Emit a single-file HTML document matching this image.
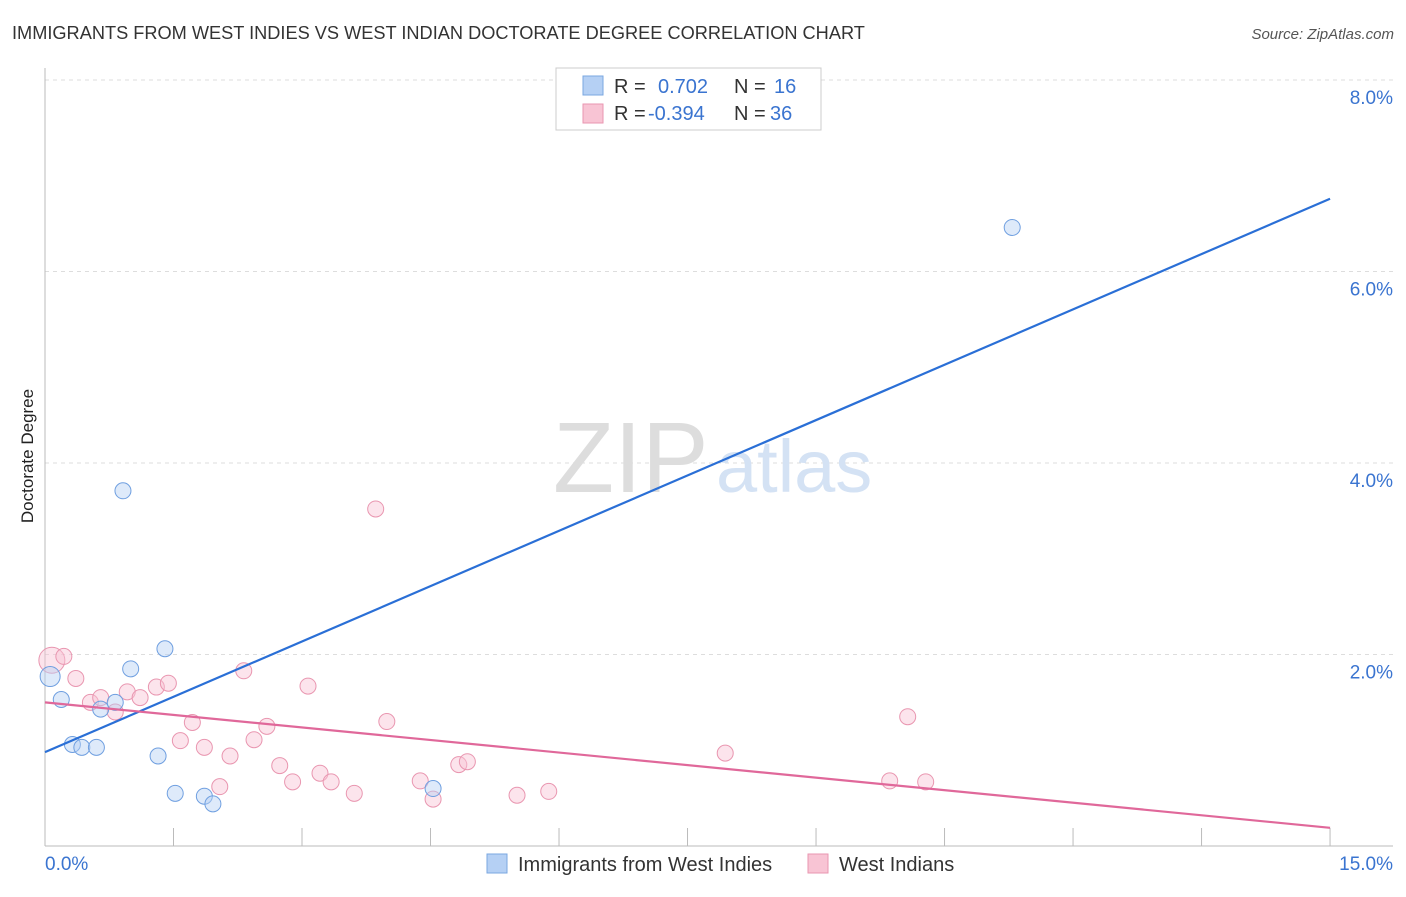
<!DOCTYPE html>
<html><head><meta charset="utf-8"><style>
body{margin:0;background:#fff;font-family:"Liberation Sans",sans-serif;}
svg text{font-family:"Liberation Sans",sans-serif;}
</style></head><body>
<svg width="1406" height="892" xmlns="http://www.w3.org/2000/svg">
<text x="12" y="39" font-size="18.2" fill="#333">IMMIGRANTS FROM WEST INDIES VS WEST INDIAN DOCTORATE DEGREE CORRELATION CHART</text>
<text x="1394" y="39" font-size="15" fill="#555" text-anchor="end" font-style="italic">Source: ZipAtlas.com</text>
<text x="0" y="0" transform="translate(33,456) rotate(-90)" font-size="17" fill="#222" text-anchor="middle">Doctorate Degree</text>
<g id="grid"></g>
<text x="553" y="492" font-size="100" fill="#ddd" font-family="Liberation Serif">ZIP</text>
<text x="716" y="492" font-size="74" fill="#d4e2f4">atlas</text>
<g id="marks"></g>
<g>
<rect x="556" y="68" width="265" height="62" fill="#fff" stroke="#ccc"/>
<rect x="583" y="76" width="20" height="19" fill="#b5d0f4" stroke="#7aa7e0"/>
<rect x="583" y="104" width="20" height="19" fill="#f8c4d4" stroke="#e996b0"/>
<text x="614" y="93" font-size="20" fill="#333">R = </text><text x="658" y="93" font-size="20" fill="#3a74d0">0.702</text>
<text x="734" y="93" font-size="20" fill="#333">N = </text><text x="774" y="93" font-size="20" fill="#3a74d0">16</text>
<text x="614" y="120" font-size="20" fill="#333">R = </text><text x="648" y="120" font-size="20" fill="#3a74d0">-0.394</text>
<text x="734" y="120" font-size="20" fill="#333">N = </text><text x="770" y="120" font-size="20" fill="#3a74d0">36</text>
</g>
<g>
<rect x="487" y="854" width="20" height="19" fill="#b5d0f4" stroke="#7aa7e0"/>
<text x="518" y="871" font-size="20" fill="#333">Immigrants from West Indies</text>
<rect x="808" y="854" width="20" height="19" fill="#f8c4d4" stroke="#e996b0"/>
<text x="839" y="871" font-size="20" fill="#333">West Indians</text>
</g>
<text x="45" y="870" font-size="19" fill="#3a74d0">0.0%</text>
<text x="1393" y="870" font-size="19" fill="#3a74d0" text-anchor="end">15.0%</text>
</svg>
<script>
const yTicks=[2,4,6,8];
const xTickCount=10;
const blueX=[0.06,0.19,0.32,0.43,0.60,0.65,0.82,0.91,1.00,1.32,1.40,1.52,1.86,1.96,4.53,11.29];
const blueY=[1.77,1.53,1.06,1.03,1.03,1.43,1.50,3.71,1.85,0.94,2.06,0.55,0.52,0.44,0.60,6.46];
const pinkX=[0.08,0.22,0.36,0.53,0.65,0.82,0.96,1.11,1.30,1.44,1.58,1.72,1.86,2.04,2.16,2.32,2.44,2.59,2.74,2.89,3.07,3.21,3.34,3.61,3.86,3.99,4.38,4.53,4.83,4.93,5.51,5.88,7.94,9.86,10.07,10.28];
const pinkY=[1.94,1.98,1.75,1.50,1.55,1.40,1.61,1.55,1.66,1.70,1.10,1.29,1.03,0.62,0.94,1.83,1.11,1.25,0.84,0.67,1.67,0.76,0.67,0.55,3.52,1.30,0.68,0.49,0.85,0.88,0.53,0.57,0.97,0.68,1.35,0.67];
const blueLine=[0.98,6.76];
const pinkLine=[1.50,0.19];
const X=v=>45+v*85.67, Y=v=>846-v*95.75;
const NS="http://www.w3.org/2000/svg";
const grid=document.getElementById('grid'), marks=document.getElementById('marks');
function mk(tag,attrs,parent){const e=document.createElementNS(NS,tag);for(const k in attrs)e.setAttribute(k,attrs[k]);parent.appendChild(e);return e;}
yTicks.forEach(t=>{
 const l=mk('line',{x1:45,x2:1393,y1:Y(t),y2:Y(t),stroke:'#ddd','stroke-dasharray':'4,4'},grid);
 
 
 const tx=mk('text',{x:1393,y:Y(t)+24,'font-size':19,fill:'#3a74d0','text-anchor':'end'},grid);
 tx.textContent=t.toFixed(1)+'%';
 
 
});
let ax=mk('line',{x1:45,x2:1393,y1:846,y2:846,stroke:'#bbb'},grid);


let ay=mk('line',{x1:45,x2:45,y1:68,y2:846,stroke:'#bbb'},grid);


for(let i=1;i<=xTickCount;i++){
 const tk=mk('line',{x1:X(i*1.5),x2:X(i*1.5),y1:828,y2:846,stroke:'#bbb'},grid);
 
 
}
pinkX.forEach((v,i)=>{
 const c=mk('circle',{cx:X(v),cy:Y(pinkY[i]),r:i==0?13:8,fill:'#f8c4d4','fill-opacity':0.45,stroke:'#e996b0'},marks);
 
 
});
blueX.forEach((v,i)=>{
 const c=mk('circle',{cx:X(v),cy:Y(blueY[i]),r:i==0?10:8,fill:'#b5d0f4','fill-opacity':0.45,stroke:'#6f9fe0'},marks);
 
 
});
const bl=mk('line',{x1:X(0),y1:Y(blueLine[0]),x2:X(15),y2:Y(blueLine[1]),stroke:'#2a6fd6','stroke-width':2.2},marks);


const pl=mk('line',{x1:X(0),y1:Y(pinkLine[0]),x2:X(15),y2:Y(pinkLine[1]),stroke:'#e0689a','stroke-width':2.2},marks);


</script>
</body></html>
